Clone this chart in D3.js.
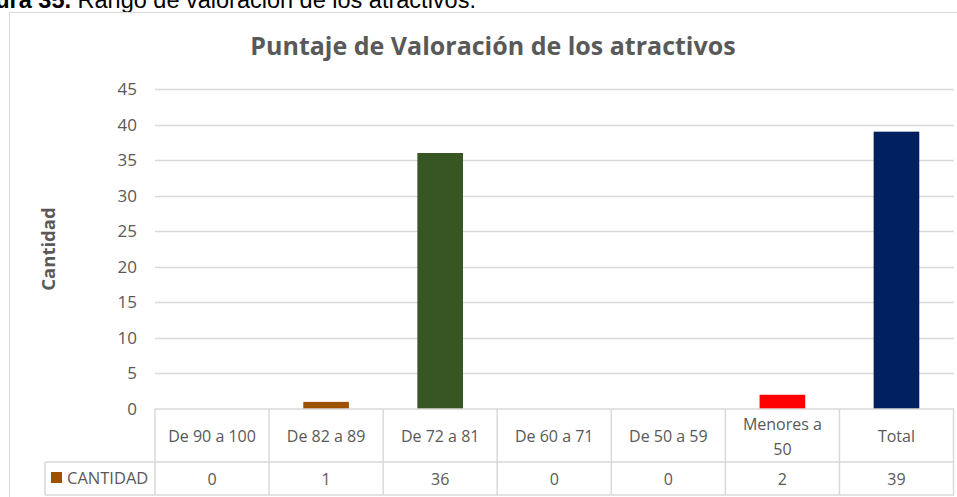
<!DOCTYPE html>
<html>
<head>
<meta charset="utf-8">
<script src="https://cdn.jsdelivr.net/npm/d3@7"></script>
<style>
  html, body { margin: 0; padding: 0; background: #fff; }
  svg { display: block; }
</style>
</head>
<body>
<svg id="chart" width="957" height="497"></svg>
<script>
// Rangos de puntaje y cantidad de atractivos en cada uno
const categories = ["De 90 a 100", "De 82 a 89", "De 72 a 81", "De 60 a 71", "De 50 a 59", "Menores a 50", "Total"];
const categoryLines = [["De 90 a 100"], ["De 82 a 89"], ["De 72 a 81"], ["De 60 a 71"], ["De 50 a 59"], ["Menores a", "50"], ["Total"]];
const cantidad = [0, 1, 36, 0, 0, 2, 39];
const barColors = ["#9C5200", "#9C5200", "#375623", "#9C5200", "#9C5200", "#FF0000", "#002060"];
const yTicks = [0, 5, 10, 15, 20, 25, 30, 35, 40, 45];
const seriesName = "CANTIDAD";
const titleText = "Puntaje de Valoración de los atractivos";
const yLabel = "Cantidad";

const svg = d3.select("#chart");
const textColor = "#595959";
const gridColor = "#D9D9D9";
const font = "'Open Sans', 'Liberation Sans', sans-serif";

// Figure caption, partly above the page edge
const cap = svg.append("text")
  .attr("y", 8)
  .attr("font-family", "'Liberation Sans', Arial, sans-serif")
  .attr("font-size", 23.5)
  .attr("fill", "#000");
cap.append("tspan").attr("font-weight", "bold").text("Figura 35.");
cap.append("tspan").text(" Rango de valoración de los atractivos.");
const boldLen = cap.select("tspan").node().getComputedTextLength();
cap.attr("x", 71 - boldLen);

// Chart frame
svg.append("rect")
  .attr("x", 9.5).attr("y", 12.5)
  .attr("width", 980).attr("height", 520)
  .attr("fill", "#fff")
  .attr("stroke", gridColor).attr("stroke-width", 1);

const plot = { left: 155, right: 953.5, top: 89, bottom: 409 };

const x = d3.scaleBand()
  .domain(categories)
  .range([plot.left, plot.right])
  .paddingInner(0.6)
  .paddingOuter(0.3);

const y = d3.scaleLinear()
  .domain([0, 45])
  .range([plot.bottom, plot.top]);

// Title
svg.append("text")
  .attr("x", 493).attr("y", 55)
  .attr("text-anchor", "middle")
  .attr("font-family", font)
  .attr("font-weight", "bold")
  .attr("font-size", 25)
  .attr("fill", textColor)
  .text(titleText);

// Horizontal gridlines and y axis labels
const yAxis = d3.axisLeft(y)
  .tickValues(yTicks)
  .tickSize(0)
  .tickPadding(18)
  .tickFormat(d3.format("d"));

const yG = svg.append("g")
  .attr("transform", `translate(${plot.left},0)`)
  .call(yAxis);
yG.select(".domain").remove();
yG.selectAll("text")
  .attr("font-family", font)
  .attr("font-size", 17)
  .attr("fill", textColor);

svg.append("g")
  .selectAll("line")
  .data(yTicks.filter(d => d > 0))
  .join("line")
  .attr("x1", plot.left).attr("x2", 954)
  .attr("y1", d => Math.round(y(d)) + 0.5)
  .attr("y2", d => Math.round(y(d)) + 0.5)
  .attr("stroke", gridColor)
  .attr("stroke-width", 1.5);

// Y axis title
svg.append("text")
  .attr("transform", `translate(55,249) rotate(-90)`)
  .attr("text-anchor", "middle")
  .attr("font-family", font)
  .attr("font-weight", "bold")
  .attr("font-size", 18.5)
  .attr("fill", textColor)
  .text(yLabel);

// Bars
svg.append("g")
  .selectAll("rect")
  .data(cantidad)
  .join("rect")
  .attr("x", (d, i) => x(categories[i]))
  .attr("width", x.bandwidth())
  .attr("y", d => y(d))
  .attr("height", d => y(0) - y(d))
  .attr("fill", (d, i) => barColors[i]);

// Data table below the plot
const rowTop = 409, rowMid = 462, rowBot = 495;
const step = x.step();
const colLeft = i => x(categories[i]) - (step - x.bandwidth()) / 2;
const table = svg.append("g");
const lineStyle = sel => sel.attr("stroke", gridColor).attr("stroke-width", 1.5);

// horizontal rules
table.append("line").attr("x1", plot.left).attr("x2", 954).attr("y1", rowTop).attr("y2", rowTop).call(lineStyle);
table.append("line").attr("x1", 45).attr("x2", 954).attr("y1", rowMid).attr("y2", rowMid).call(lineStyle);
table.append("line").attr("x1", 45).attr("x2", 954).attr("y1", rowBot).attr("y2", rowBot).call(lineStyle);
// vertical rules
table.append("line").attr("x1", 45).attr("x2", 45).attr("y1", rowMid).attr("y2", rowBot).call(lineStyle);
table.selectAll("line.col")
  .data(d3.range(categories.length + 1))
  .join("line")
  .attr("class", "col")
  .attr("x1", i => i < categories.length ? colLeft(i) : colLeft(i - 1) + step)
  .attr("x2", i => i < categories.length ? colLeft(i) : colLeft(i - 1) + step)
  .attr("y1", rowTop).attr("y2", rowBot)
  .call(lineStyle);

// category labels
const catG = table.selectAll("text.cat")
  .data(categoryLines)
  .join("text")
  .attr("class", "cat")
  .attr("text-anchor", "middle")
  .attr("font-family", font)
  .attr("font-size", 16)
  .attr("fill", textColor);
catG.each(function (lines, i) {
  const cx = x(categories[i]) + x.bandwidth() / 2;
  const lh = 25;
  const startY = 442 - (lines.length - 1) * lh / 2;
  d3.select(this).selectAll("tspan")
    .data(lines)
    .join("tspan")
    .attr("x", cx)
    .attr("y", (d, j) => startY + j * lh)
    .text(d => d);
});

// values
table.selectAll("text.val")
  .data(cantidad)
  .join("text")
  .attr("class", "val")
  .attr("x", (d, i) => x(categories[i]) + x.bandwidth() / 2)
  .attr("y", 484.5)
  .attr("text-anchor", "middle")
  .attr("font-family", font)
  .attr("font-size", 16)
  .attr("fill", textColor)
  .text(d => d);

// legend key in the table
table.append("rect")
  .attr("x", 51).attr("y", 472)
  .attr("width", 11).attr("height", 11)
  .attr("fill", barColors[1]);
table.append("text")
  .attr("x", 67).attr("y", 484)
  .attr("font-family", font)
  .attr("font-size", 16.5)
  .attr("fill", textColor)
  .text(seriesName);
</script>
</body>
</html>
